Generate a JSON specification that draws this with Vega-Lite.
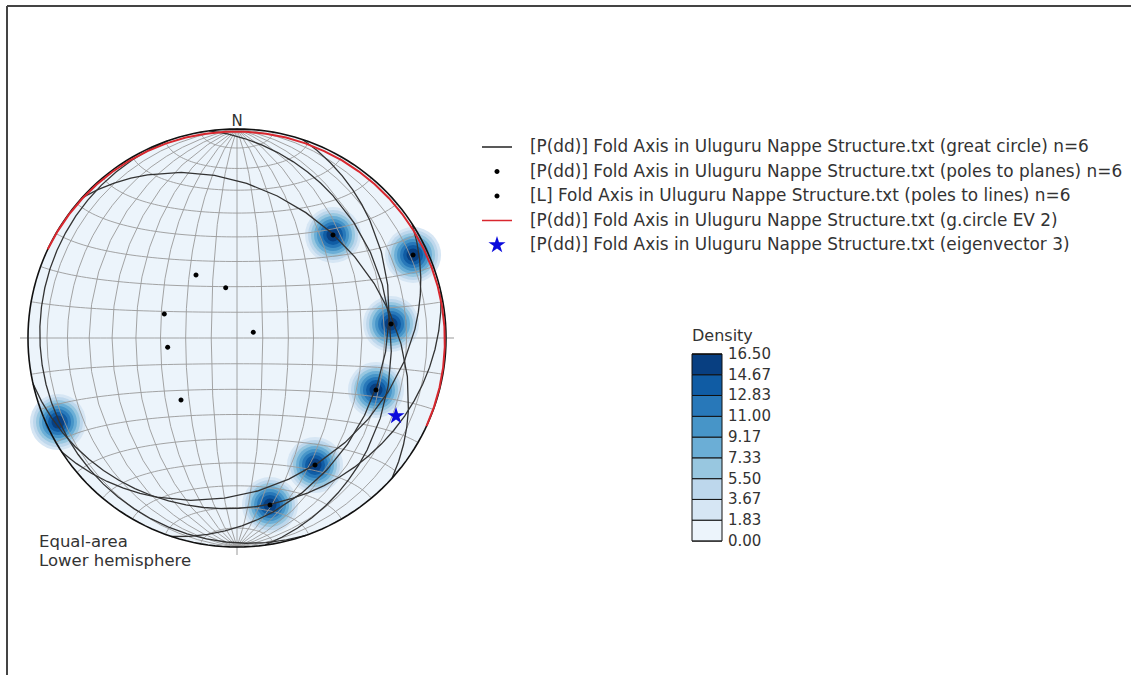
{
  "$schema": "https://vega.github.io/schema/vega-lite/v6.json",
  "width": 1124,
  "height": 669,
  "autosize": {"type": "none"},
  "padding": {"left": 7, "top": 6, "right": 0, "bottom": 0},
  "background": "white",
  "view": {"stroke": "#444", "strokeWidth": 2, "strokeDash": [1124, 1793, 669, 0]},
  "config": {"font": "DejaVu Sans"},
  "projection": {"type": "azimuthalEqualArea", "clipAngle": 90, "scale": 147.8, "translate": [230, 332], "rotate": [0, 0, 0]},
  "datasets": {
    "blobs": [
      {"lon": 46.28, "lat": 37.79, "level": [2.75, 4.58, 6.42, 8.25, 10.08, 11.92, 13.75, 15.58]},
      {"lon": 81.57, "lat": 25.0, "level": [2.75, 4.58, 6.42, 8.25, 10.08, 11.92, 13.75, 15.58]},
      {"lon": 63.01, "lat": 4.63, "level": [2.75, 4.58, 6.42, 8.25, 10.08, 11.92, 13.75, 15.58]},
      {"lon": 58.63, "lat": -17.71, "level": [2.75, 4.58, 6.42, 8.25, 10.08, 11.92, 13.75, 15.58]},
      {"lon": 42.85, "lat": -47.92, "level": [2.75, 4.58, 6.42, 8.25, 10.08, 11.92, 13.75, 15.58]},
      {"lon": 28.47, "lat": -67.5, "level": [2.75, 4.58, 6.42, 8.25, 10.08, 11.92, 13.75, 15.58]},
      {"lon": -83.35, "lat": -25.0, "level": [2.75, 4.58, 6.42, 8.25, 10.08, 11.92, 13.75, 15.58]}
    ],
    "gcircles": [
      {"type": "Feature", "properties": {"id": 1}, "geometry": {"type": "LineString", "coordinates": [[-91.15, -31.31], [43.98, -46.86], [91.2, 34.79]]}},
      {"type": "Feature", "properties": {"id": 2}, "geometry": {"type": "LineString", "coordinates": [[-90.7, -10.78], [30.95, -66.43], [90.71, 14.54]]}},
      {"type": "Feature", "properties": {"id": 3}, "geometry": {"type": "LineString", "coordinates": [[-92.92, -69.97], [58.69, -15.75], [93.51, 73.42]]}},
      {"type": "Feature", "properties": {"id": 4}, "geometry": {"type": "LineString", "coordinates": [[90.64, -68.71], [-82.91, -19.13], [-90.78, 72.67]]}},
      {"type": "Feature", "properties": {"id": 5}, "geometry": {"type": "LineString", "coordinates": [[98.93, -84.04], [62.41, 6.78], [-95.6, 80.54]]}},
      {"type": "Feature", "properties": {"id": 6}, "geometry": {"type": "LineString", "coordinates": [[91.5, -43.76], [46.08, 38.57], [-91.42, 40.4]]}}
    ],
    "evcircle": [
      {"type": "Feature", "properties": {"id": "EV2"}, "geometry": {"type": "LineString", "coordinates": [[-90.06, 23.0], [86.45, 64.97], [90.06, -27.0]]}}
    ],
    "ticks": [
      {"lon": 90.53, "lat": 0, "lon2": 94.47, "lat2": 0},
      {"lon": -90.53, "lat": 0, "lon2": -94.47, "lat2": 0},
      {"lon": 180, "lat": -89.47, "lon2": 180, "lat2": -85.53}
    ],
    "points": [
      {"series": "[P(dd)] Fold Axis in Uluguru Nappe Structure.txt (poles to planes) n=6", "lon": -17.13, "lat": 24.35},
      {"series": "[P(dd)] Fold Axis in Uluguru Nappe Structure.txt (poles to planes) n=6", "lon": -4.58, "lat": 19.58},
      {"series": "[P(dd)] Fold Axis in Uluguru Nappe Structure.txt (poles to planes) n=6", "lon": -28.75, "lat": 9.02},
      {"series": "[P(dd)] Fold Axis in Uluguru Nappe Structure.txt (poles to planes) n=6", "lon": 6.33, "lat": 2.21},
      {"series": "[P(dd)] Fold Axis in Uluguru Nappe Structure.txt (poles to planes) n=6", "lon": -27.17, "lat": -3.51},
      {"series": "[P(dd)] Fold Axis in Uluguru Nappe Structure.txt (poles to planes) n=6", "lon": -23.39, "lat": -23.73},
      {"series": "[L] Fold Axis in Uluguru Nappe Structure.txt (poles to lines) n=6", "lon": 46.28, "lat": 37.79},
      {"series": "[L] Fold Axis in Uluguru Nappe Structure.txt (poles to lines) n=6", "lon": 81.57, "lat": 25.0},
      {"series": "[L] Fold Axis in Uluguru Nappe Structure.txt (poles to lines) n=6", "lon": 63.01, "lat": 4.63},
      {"series": "[L] Fold Axis in Uluguru Nappe Structure.txt (poles to lines) n=6", "lon": 58.63, "lat": -17.71},
      {"series": "[L] Fold Axis in Uluguru Nappe Structure.txt (poles to lines) n=6", "lon": 42.85, "lat": -47.92},
      {"series": "[L] Fold Axis in Uluguru Nappe Structure.txt (poles to lines) n=6", "lon": 28.47, "lat": -67.5},
      {"series": "[P(dd)] Fold Axis in Uluguru Nappe Structure.txt (eigenvector 3)", "lon": 71.87, "lat": -24.99}
    ],
    "labels": [
      {"label": "N", "lon": 0, "lat": 90}
    ],
    "notes": [
      {"label": "Equal-area\nLower hemisphere", "lon": 0, "lat": -90}
    ]
  },
  "layer": [
    {
      "data": {"sphere": true},
      "mark": {"type": "geoshape", "fill": "#ecf4fb", "strokeWidth": 0}
    },
    {
      "data": {"name": "blobs"},
      "transform": [{"flatten": ["level"]}],
      "mark": {"type": "point", "shape": "circle", "filled": true, "opacity": 1, "strokeWidth": 0},
      "encoding": {
        "longitude": {"field": "lon", "type": "quantitative"},
        "latitude": {"field": "lat", "type": "quantitative"},
        "order": {"field": "level", "type": "quantitative", "sort": "ascending"},
        "size": {"field": "level", "type": "quantitative", "legend": null,
          "scale": {"domain": [2.75, 4.58, 6.42, 8.25, 10.08, 11.92, 13.75, 15.58], "range": [3136, 2500, 1936, 1444, 1024, 676, 400, 169]}},
        "color": {"field": "level", "type": "quantitative",
          "scale": {"type": "quantize", "domain": [0, 16.5], "nice": false, "zero": false,
            "range": ["#ecf4fb", "#d6e6f4", "#bdd7ec", "#98c7e0", "#6baed6", "#4795c8", "#2878b9", "#105ca4", "#083f81"]},
          "legend": {"title": "Density", "type": "gradient", "orient": "none", "legendX": 685, "legendY": 322, "direction": "vertical",
            "gradientLength": 187, "gradientThickness": 30, "gradientStrokeColor": "#111", "gradientStrokeWidth": 1,
            "values": [0, 0.01, 1.84, 3.67, 5.5, 7.34, 9.17, 11, 12.84, 14.67, 16.49],
            "labelExpr": "datum.value <= 0 ? '' : format(round(datum.value*9/16.5)*16.5/9, '.2f')",
            "labelFontSize": 15, "labelColor": "#333", "labelOffset": 6, "labelOverlap": false,
            "titleFontSize": 16, "titleFontWeight": "normal", "titleColor": "#333", "titlePadding": 10, "padding": 0}}
      }
    },
    {
      "data": {"graticule": {"step": [10, 10], "extent": [[-180, -90], [180, 90]]}},
      "mark": {"type": "geoshape", "filled": false, "stroke": "#9a9a9a", "strokeWidth": 0.9}
    },
    {
      "data": {"name": "gcircles"},
      "mark": {"type": "geoshape", "filled": false, "stroke": "#333", "strokeWidth": 1.3}
    },
    {
      "data": {"sphere": true},
      "mark": {"type": "geoshape", "filled": false, "stroke": "#111", "strokeWidth": 1.6}
    },
    {
      "data": {"name": "evcircle"},
      "mark": {"type": "geoshape", "filled": false, "stroke": "#d9272e", "strokeWidth": 2}
    },
    {
      "data": {"name": "ticks"},
      "mark": {"type": "rule", "color": "#999", "strokeWidth": 1},
      "encoding": {
        "longitude": {"field": "lon", "type": "quantitative"},
        "latitude": {"field": "lat", "type": "quantitative"},
        "longitude2": {"field": "lon2"},
        "latitude2": {"field": "lat2"}
      }
    },
    {
      "data": {"name": "points"},
      "mark": {"type": "point", "size": 484, "opacity": 1, "strokeWidth": 1.5},
      "encoding": {
        "longitude": {"field": "lon", "type": "quantitative"},
        "latitude": {"field": "lat", "type": "quantitative"},
        "fill": {"field": "series", "type": "nominal",
          "scale": {"domain": [
            "[P(dd)] Fold Axis in Uluguru Nappe Structure.txt (great circle) n=6",
            "[P(dd)] Fold Axis in Uluguru Nappe Structure.txt (poles to planes) n=6",
            "[L] Fold Axis in Uluguru Nappe Structure.txt (poles to lines) n=6",
            "[P(dd)] Fold Axis in Uluguru Nappe Structure.txt (g.circle EV 2)",
            "[P(dd)] Fold Axis in Uluguru Nappe Structure.txt (eigenvector 3)"],
            "range": ["transparent", "black", "black", "transparent", "#0a0adc"]},
          "legend": {"title": null, "orient": "none", "legendX": 478, "legendY": 129, "symbolSize": 484, "symbolStrokeWidth": 1.5,
            "labelFontSize": 16.9, "labelColor": "#333", "labelLimit": 1000, "labelOffset": 21, "rowPadding": 4.5, "padding": 0}},
        "stroke": {"field": "series", "type": "nominal",
          "scale": {"domain": [
            "[P(dd)] Fold Axis in Uluguru Nappe Structure.txt (great circle) n=6",
            "[P(dd)] Fold Axis in Uluguru Nappe Structure.txt (poles to planes) n=6",
            "[L] Fold Axis in Uluguru Nappe Structure.txt (poles to lines) n=6",
            "[P(dd)] Fold Axis in Uluguru Nappe Structure.txt (g.circle EV 2)",
            "[P(dd)] Fold Axis in Uluguru Nappe Structure.txt (eigenvector 3)"],
            "range": ["#222", "transparent", "transparent", "#d9272e", "transparent"]}},
        "shape": {"field": "series", "type": "nominal",
          "scale": {"domain": [
            "[P(dd)] Fold Axis in Uluguru Nappe Structure.txt (great circle) n=6",
            "[P(dd)] Fold Axis in Uluguru Nappe Structure.txt (poles to planes) n=6",
            "[L] Fold Axis in Uluguru Nappe Structure.txt (poles to lines) n=6",
            "[P(dd)] Fold Axis in Uluguru Nappe Structure.txt (g.circle EV 2)",
            "[P(dd)] Fold Axis in Uluguru Nappe Structure.txt (eigenvector 3)"],
            "range": [
              "M-1.364,0L1.364,0",
              "M0.227,0A0.227,0.227,0,1,1,-0.227,0A0.227,0.227,0,1,1,0.227,0Z",
              "M0.227,0A0.227,0.227,0,1,1,-0.227,0A0.227,0.227,0,1,1,0.227,0Z",
              "M-1.364,0L1.364,0",
              "M0,-0.818L0.184,-0.253L0.778,-0.253L0.297,0.097L0.481,0.662L0,0.312L-0.481,0.662L-0.297,0.097L-0.778,-0.253L-0.184,-0.253Z"]}}
      }
    },
    {
      "data": {"name": "labels"},
      "mark": {"type": "text", "fontSize": 15, "baseline": "alphabetic", "align": "center", "dy": -3, "color": "#333"},
      "encoding": {
        "longitude": {"field": "lon", "type": "quantitative"},
        "latitude": {"field": "lat", "type": "quantitative"},
        "text": {"field": "label", "type": "nominal"}
      }
    },
    {
      "data": {"name": "notes"},
      "mark": {"type": "text", "fontSize": 16.5, "baseline": "alphabetic", "align": "left", "dx": -198, "dy": 0, "lineBreak": "\n", "lineHeight": 19.4, "color": "#333"},
      "encoding": {
        "longitude": {"field": "lon", "type": "quantitative"},
        "latitude": {"field": "lat", "type": "quantitative"},
        "text": {"field": "label", "type": "nominal"}
      }
    }
  ]
}
